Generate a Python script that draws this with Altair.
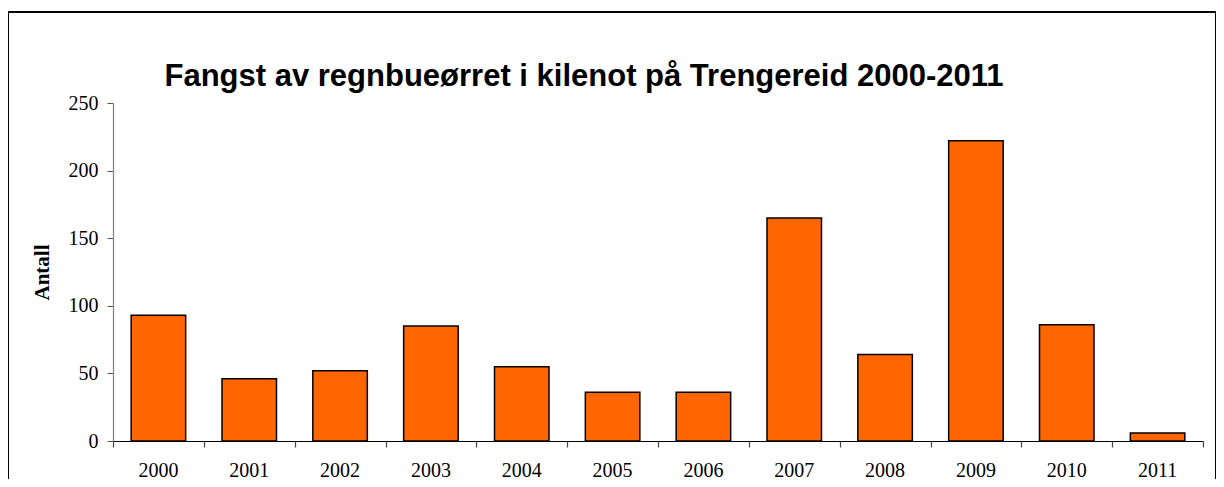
import altair as alt
import pandas as pd

years = ["2000", "2001", "2002", "2003", "2004", "2005", "2006", "2007", "2008", "2009", "2010", "2011"]
counts = [93, 46, 52, 85, 55, 36, 36, 165, 64, 222, 86, 6]
boundaries = list(range(0, 13))
y_ticks = [0, 50, 100, 150, 200, 250]

df = pd.DataFrame({"year": years, "count": counts})
df_b = pd.DataFrame({"pos": boundaries})
df_frame = pd.DataFrame({"k": [0]})

serif = "Liberation Serif"

bars = alt.Chart(df).mark_bar(
    color="#FF6600", stroke="black", strokeWidth=1.5
).encode(
    x=alt.X("year:O", sort=years,
            scale=alt.Scale(paddingInner=0.4, paddingOuter=0.2),
            axis=alt.Axis(title=None, orient="bottom", ticks=False, tickSize=0,
                          labelAngle=0, labelPadding=19, labelFont=serif,
                          labelFontSize=20, labelColor="black",
                          domainColor="black", domainWidth=1.2)),
    y=alt.Y("count:Q",
            scale=alt.Scale(domain=[0, 250], nice=False),
            axis=alt.Axis(title="Antall", values=y_ticks, grid=False,
                          tickSize=6, tickColor="#555555", labelPadding=9,
                          labelFont=serif, labelFontSize=20, labelColor="black",
                          domainColor="#808080", domainWidth=1.2,
                          titleFont=serif, titleFontSize=21, titleFontWeight="bold",
                          titleColor="black", titlePadding=16)),
)

ticks = alt.Chart(df_b).mark_point(opacity=0).encode(
    x=alt.X("pos:Q", scale=alt.Scale(domain=[0, 12], nice=False, zero=True),
            axis=alt.Axis(title=None, orient="bottom", values=boundaries,
                          labels=False, domain=False, grid=False,
                          tickSize=6, tickColor="#444444", tickWidth=1.2)),
)

frame = alt.Chart(df_frame).mark_rect(
    fill=None, stroke="black", strokeWidth=2
).encode(
    x=alt.value(-105), x2=alt.value(1103),
    y=alt.value(-91), y2=alt.value(420),
)

chart = alt.layer(bars, ticks, frame).resolve_scale(x="independent").properties(
    width=1090, height=338,
    autosize=alt.AutoSizeParams(type="none"),
    padding={"left": 105, "top": 95, "right": 13, "bottom": 38},
    title=alt.TitleParams(
        "Fangst av regnbueørret i kilenot på Trengereid 2000-2011",
        font="Liberation Sans", fontSize=31, fontWeight="bold", color="black",
        anchor="middle", frame="group", dx=-74, offset=12, dy=94,
    ),
).configure_view(stroke=None)

chart.save("out.html", embed_options={"renderer": "svg", "actions": False})
